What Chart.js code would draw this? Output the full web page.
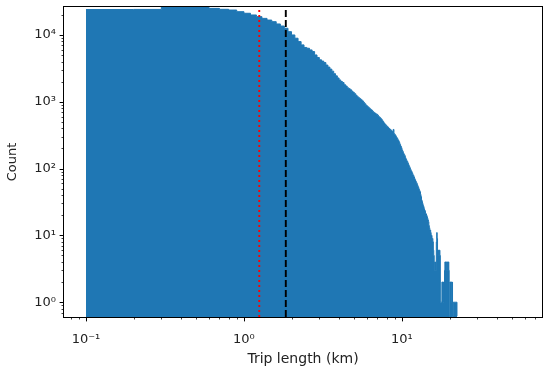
<!DOCTYPE html>
<html>
<head>
<meta charset="utf-8">
<script src="https://cdn.jsdelivr.net/npm/chart.js@4.4.1/dist/chart.umd.min.js"></script>
<style>
  html, body { margin: 0; padding: 0; background: #fff; }
</style>
</head>
<body>
<canvas id="histChart" width="550" height="372"></canvas>
<script>
// Histogram bins: 0.1 km wide, first bin starts at 0.1 km
const binStart = 0.1;
const binWidth = 0.1;

// Count per bin
const tripCounts = [
  24000, 24100, 27000, 27500, 27000, 25000, 24200, 23600, 22300, 21100,
  19900, 18800, 17700, 16700, 15800, 14600, 13600, 12600, 11200, 10000,
  8930, 7950, 7100, 6500, 6320, 5970, 5640, 5020, 4600, 4240,
  4060, 3860, 3540, 3300, 3080, 2870, 2630, 2440, 2270, 2120,
  2010, 1940, 1800, 1720, 1620, 1570, 1510, 1440, 1380, 1320,
  1250, 1190, 1150, 1110, 1070, 1030, 980, 935, 890, 860,
  830, 800, 770, 750, 720, 695, 680, 660, 650, 630,
  600, 585, 565, 545, 520, 500, 475, 460, 445, 430,
  420, 405, 395, 385, 375, 365, 355, 385, 333, 322,
  310, 295, 285, 270, 260, 245, 230, 217, 205, 190,
  180, 170, 162, 156, 145, 138, 131, 127, 120, 114,
  108, 103, 98, 93, 90, 86, 81, 79, 75, 71,
  68, 65, 62, 60, 57, 54, 52, 49, 47, 45,
  41, 38, 34, 32, 30, 28, 27, 25, 24, 23,
  21, 21, 20, 19, 18, 17, 16, 14, 13, 12,
  12, 11, 10, 10, 9, 9, 8, 6, 5, 4,
  3, 3, 4, 3, 8, 11, 9, 4, 6, 6,
  5, 6, 6, 5, 1, 1, 1, 1, 2, 2,
  2, 2, 1, 2, 2, 3, 4, 4, 4, 4,
  4, 3, 4, 4, 3, 4, 4, 3, 0, 0,
  2, 2, 2, 2, 2, 2, 1, 2, 0, 0,
  1, 1, 1, 1, 1, 1, 1, 1, 1, 1,
  1, 1
];

// Reference lines (km)
const refLines = [
  { value: 1.25, color: "#ff0000", dash: [1.9, 3.1] }, // dotted red
  { value: 1.84, color: "#000000", dash: [7, 3] }      // dashed black
];

// Axis ranges and tick labels
const xRange = [0.0726, 77];
const yRange = [0.618, 26200];
const xMajorTicks = [0.1, 1, 10];
const xTickLabels = ["10\u207B\u00B9", "10\u2070", "10\u00B9"];
const yMajorTicks = [1, 10, 100, 1000, 10000];
const yTickLabels = ["10\u2070", "10\u00B9", "10\u00B2", "10\u00B3", "10\u2074"];

const barColor = "#1f77b4";
const textColor = "#222";
const font = "DejaVu Sans";

// 2..9 x 10^n minor ticks inside the range
const minorTicks = (majors, range) => {
  const out = [];
  const decades = [majors[0] / 10, ...majors];
  decades.forEach((d) => {
    for (let k = 2; k <= 9; k++) {
      const v = +(d * k).toPrecision(3);
      if (v >= range[0] && v <= range[1]) out.push(v);
    }
  });
  return out;
};

const xMinor = minorTicks(xMajorTicks, xRange);
const yMinor = minorTicks(yMajorTicks, yRange);
const xAllTicks = [...xMajorTicks, ...xMinor].sort((a, b) => a - b);
const yAllTicks = [...yMajorTicks, ...yMinor].sort((a, b) => a - b);

// Step outline of the histogram; empty bins drop to the axis floor
const histPoints = tripCounts.map((c, i) => ({
  x: +(binStart + i * binWidth).toFixed(1),
  y: c > 0 ? c : yRange[0]
}));
histPoints.push({
  x: +(binStart + tripCounts.length * binWidth).toFixed(1),
  y: yRange[0]
});

const axesDecor = {
  id: "axesDecor",
  afterDatasetsDraw(chart) {
    const { ctx, chartArea: a } = chart;
    const xs = chart.scales.x;
    const ys = chart.scales.y;

    ctx.save();
    ctx.beginPath();
    ctx.rect(a.left, a.top, a.right - a.left, a.bottom - a.top);
    ctx.clip();
    refLines.forEach((r) => {
      const px = xs.getPixelForValue(r.value);
      ctx.strokeStyle = r.color;
      ctx.lineWidth = 1.9;
      ctx.setLineDash(r.dash);
      ctx.beginPath();
      ctx.moveTo(px, a.bottom);
      ctx.lineTo(px, a.top);
      ctx.stroke();
    });
    ctx.restore();

    ctx.save();
    ctx.strokeStyle = "#000";
    ctx.lineWidth = 1;
    ctx.strokeRect(a.left - 0.5, a.top - 0.5, a.right - a.left + 1, a.bottom - a.top + 1);

    xAllTicks.forEach((v) => {
      const major = xMajorTicks.includes(v);
      const px = Math.round(xs.getPixelForValue(v)) + 0.5;
      ctx.lineWidth = major ? 1 : 0.75;
      ctx.beginPath();
      ctx.moveTo(px, a.bottom);
      ctx.lineTo(px, a.bottom + (major ? 4.4 : 2.5));
      ctx.stroke();
    });
    yAllTicks.forEach((v) => {
      const major = yMajorTicks.includes(v);
      const py = Math.round(ys.getPixelForValue(v)) + 0.5;
      ctx.lineWidth = major ? 1 : 0.75;
      ctx.beginPath();
      ctx.moveTo(a.left, py);
      ctx.lineTo(a.left - (major ? 4.4 : 2.5), py);
      ctx.stroke();
    });
    ctx.restore();
  }
};

new Chart(document.getElementById("histChart"), {
  type: "line",
  data: {
    datasets: [{
      label: "Trips",
      data: histPoints,
      stepped: true,
      fill: "start",
      backgroundColor: barColor,
      borderColor: barColor,
      borderWidth: 1,
      pointRadius: 0,
      pointHoverRadius: 0,
      tension: 0
    }]
  },
  options: {
    responsive: false,
    animation: false,
    events: [],
    layout: { padding: { top: 7, right: 8, left: 0, bottom: 0 } },
    plugins: {
      legend: { display: false },
      tooltip: { enabled: false }
    },
    scales: {
      x: {
        type: "logarithmic",
        min: xRange[0],
        max: xRange[1],
        afterBuildTicks: (s) => { s.ticks = xAllTicks.map((v) => ({ value: v })); },
        afterFit: (s) => {
          s.height = 55;
          s.paddingLeft = 0;
          s.paddingRight = 0;
        },
        grid: { display: false, drawTicks: false },
        border: { display: false },
        ticks: {
          autoSkip: false,
          maxRotation: 0,
          padding: 15,
          color: textColor,
          font: { family: font, size: 13 },
          callback: (v) => {
            const i = xMajorTicks.indexOf(v);
            return i >= 0 ? xTickLabels[i] : "";
          }
        },
        title: {
          display: true,
          text: "Trip length (km)",
          color: textColor,
          font: { family: font, size: 14 },
          padding: { top: 0, bottom: 4 }
        }
      },
      y: {
        type: "logarithmic",
        min: yRange[0],
        max: yRange[1],
        afterBuildTicks: (s) => { s.ticks = yAllTicks.map((v) => ({ value: v })); },
        afterFit: (s) => {
          s.width = 64;
          s.paddingTop = 0;
          s.paddingBottom = 0;
        },
        grid: { display: false, drawTicks: false },
        border: { display: false },
        ticks: {
          autoSkip: false,
          padding: 8,
          color: textColor,
          font: { family: font, size: 13 },
          callback: (v) => {
            const i = yMajorTicks.indexOf(v);
            return i >= 0 ? yTickLabels[i] : "";
          }
        },
        title: {
          display: true,
          text: "Count",
          color: textColor,
          font: { family: font, size: 13 },
          padding: { top: 5, bottom: 0 }
        }
      }
    }
  },
  plugins: [axesDecor]
});
</script>
</body>
</html>
